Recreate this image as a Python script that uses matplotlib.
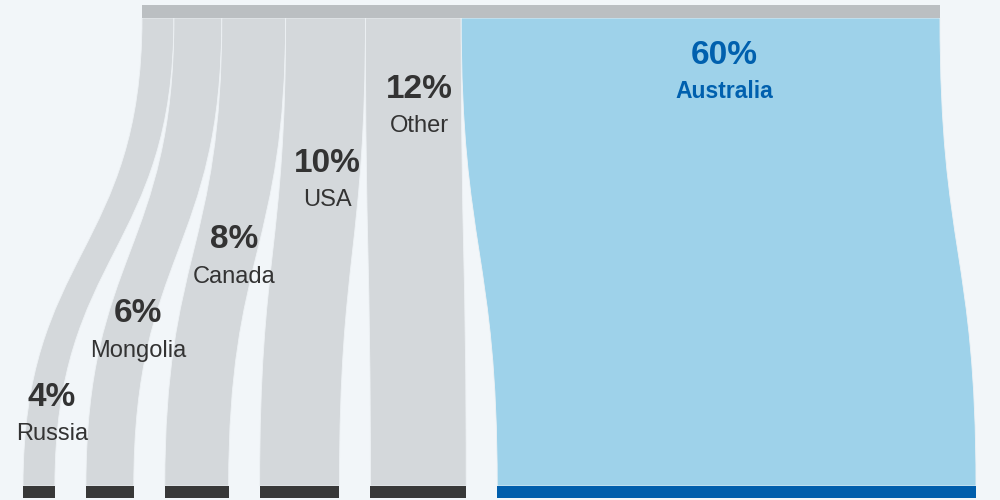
import numpy as np
import matplotlib
matplotlib.use("Agg")
import matplotlib.pyplot as plt
from matplotlib.path import Path
from matplotlib.patches import PathPatch, Rectangle

# data
countries = ["Russia", "Mongolia", "Canada", "USA", "Other", "Australia"]
shares = [4, 6, 8, 10, 12, 60]
pct_labels = ["4%", "6%", "8%", "10%", "12%", "60%"]

# layout (pixel-like units, y grows downwards)
BG = "#f2f6f9"
GRAY = "#d4d8db"
BLUE = "#9ed2ea"
DARK = "#383838"
DEEP_BLUE = "#005eac"
TEXT = "#333333"
TEXT_BLUE = "#0060ae"

top_x0 = 142
scale = 7.98          # px per percent
bot_x0 = 23
gap = 31
top_y0, top_y1 = 5, 18
bot_y0, bot_y1 = 486, 498
label_y = [397, 314, 240, 163, 89, 55]   # y of the percentage text

plt.rcParams['font.family'] = ['Liberation Sans', 'DejaVu Sans']

fig = plt.figure(figsize=(10, 5), dpi=100)
fig.patch.set_facecolor(BG)
ax = fig.add_axes([0, 0, 1, 1])
ax.set_facecolor(BG)
ax.set_xlim(0, 1000)
ax.set_ylim(500, 0)
ax.axis("off")

widths = np.array(shares) * scale
top_left = top_x0 + np.concatenate([[0], np.cumsum(widths)[:-1]])
bot_left = bot_x0 + np.concatenate([[0], np.cumsum(widths)[:-1]]) + gap * np.arange(len(shares))


def edge_x(xt, xb, y):
    # cubic bezier with vertical tangents, evaluated at height y
    s = np.linspace(0, 1, 400)
    h = bot_y0 - top_y1
    ys = top_y1 + h * (1.5 * s * (1 - s) + s ** 3)
    xs = xt + (xb - xt) * (3 * s ** 2 - 2 * s ** 3)
    return np.interp(y, ys, xs)


for i, name in enumerate(countries):
    xl_t, xr_t = top_left[i], top_left[i] + widths[i]
    xl_b, xr_b = bot_left[i], bot_left[i] + widths[i]
    ym = (top_y1 + bot_y0) / 2
    verts = [(xl_t, top_y1), (xl_t, ym), (xl_b, ym), (xl_b, bot_y0),
             (xr_b, bot_y0),
             (xr_b, ym), (xr_t, ym), (xr_t, top_y1),
             (xl_t, top_y1)]
    codes = [Path.MOVETO, Path.CURVE4, Path.CURVE4, Path.CURVE4,
             Path.LINETO,
             Path.CURVE4, Path.CURVE4, Path.CURVE4,
             Path.CLOSEPOLY]
    is_main = name == "Australia"
    ax.add_patch(PathPatch(Path(verts, codes),
                           facecolor=BLUE if is_main else GRAY,
                           edgecolor="#eef2f5", lw=0.6))
    ax.add_patch(Rectangle((xl_b, bot_y0), widths[i], bot_y1 - bot_y0,
                           facecolor=DEEP_BLUE if is_main else DARK, lw=0))

    y = label_y[i]
    if is_main:
        cx = (xl_t + xr_t) / 2 + 24
        col, wname = TEXT_BLUE, "bold"
    else:
        cx = (edge_x(xl_t, xl_b, y) + edge_x(xr_t, xr_b, y)) / 2 + 6
        col, wname = TEXT, "normal"
    ax.text(cx, y, pct_labels[i], ha="center", va="center",
            fontsize=24, fontweight="bold", color=col)
    ax.text(cx, y + 37, name, ha="center", va="center",
            fontsize=17 if not is_main else 16.5, fontweight=wname, color=col)

# top bar
ax.add_patch(Rectangle((top_x0, top_y0), widths.sum(), top_y1 - top_y0,
                       facecolor="#bbbfc2", lw=0))

fig.savefig("out.png", dpi=100, facecolor=BG)
